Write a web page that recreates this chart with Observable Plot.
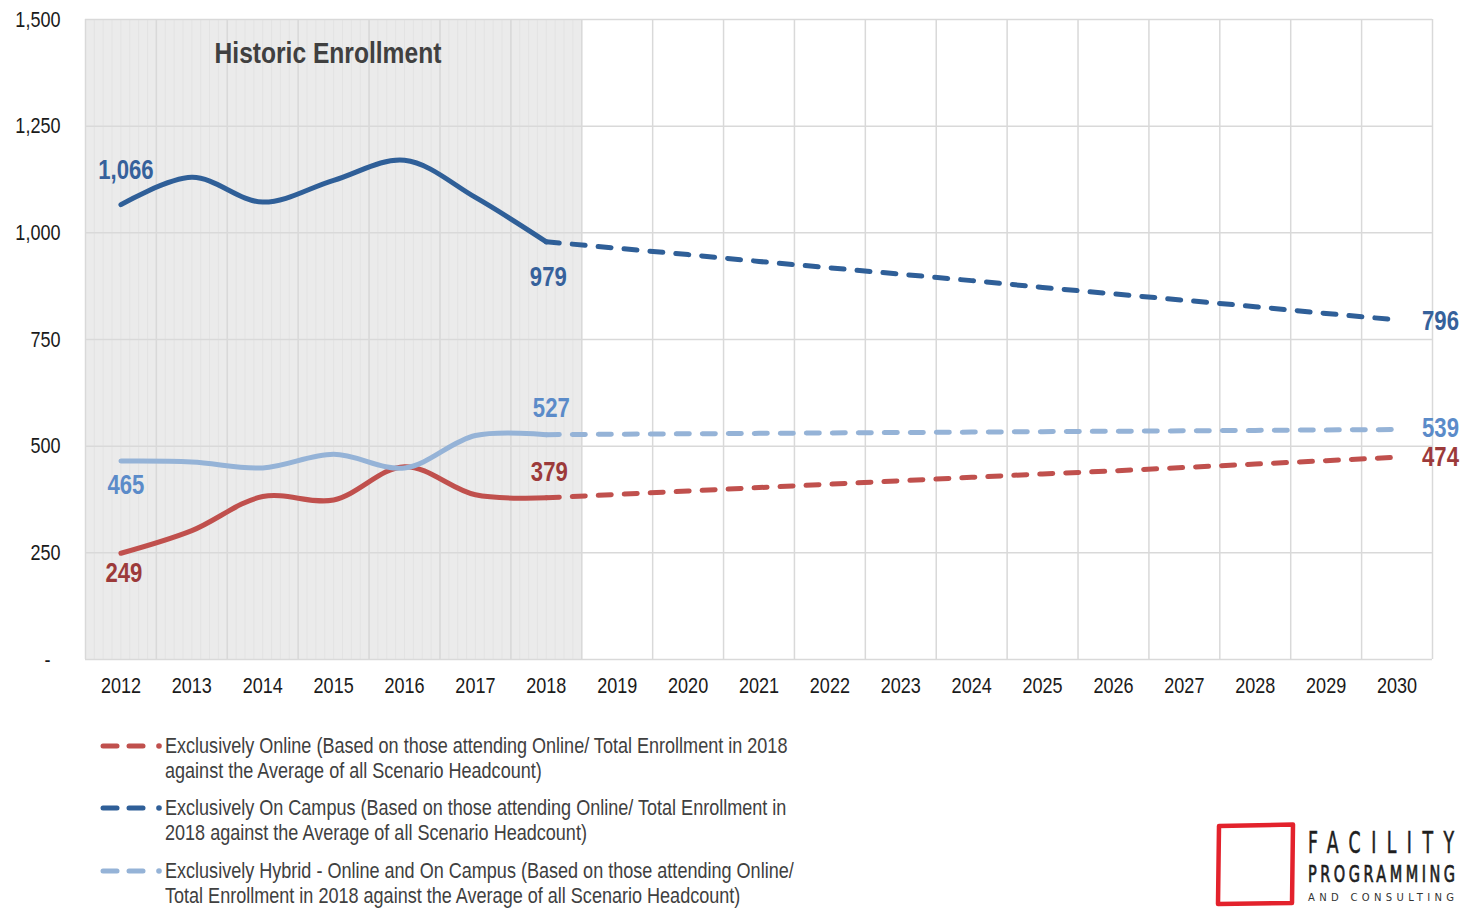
<!DOCTYPE html>
<html><head><meta charset="utf-8">
<script src="https://cdn.jsdelivr.net/npm/d3@7"></script>
<script src="https://cdn.jsdelivr.net/npm/@observablehq/plot@0.6"></script>
<style>
body{margin:0;background:#fff;font-family:"Liberation Sans",Arial,sans-serif;}
#wrap{position:relative;width:1462px;height:909px;overflow:hidden;}
#chart{position:absolute;left:0;top:0;}
.leg{position:absolute;left:100px;display:flex;align-items:flex-start;color:#404040;font-size:22px;line-height:25px;white-space:nowrap;}
.leg svg{flex:none;}
.leg span{display:inline-block;margin-left:0px;transform:scaleX(0.82);transform-origin:0 0;}
#logo{position:absolute;left:1210px;top:815px;}
</style></head><body>
<div id="wrap">
<div id="chart"></div>
<div class="leg" id="leg1" style="top:733px"></div>
<div class="leg" id="leg2" style="top:795px"></div>
<div class="leg" id="leg3" style="top:858px"></div>
<div id="logo"></div>
</div>
<script>
// ---- data ----
const years = [2012,2013,2014,2015,2016,2017,2018,2019,2020,2021,2022,2023,2024,2025,2026,2027,2028,2029,2030];
const histYears = [2012,2013,2014,2015,2016,2017,2018];
const onCampusHist = [1066,1130,1072,1123,1170,1083,979];
const onlineHist   = [249,302,382,374,452,386,379];
const hybridHist   = [465,463,449,481,449,525,527];
const projYears = [2018,2019,2020,2021,2022,2023,2024,2025,2026,2027,2028,2029,2030];
const onCampusProj = [979,964,949,933,918,903,888,872,857,842,827,811,796];
const onlineProj   = [379,387,395,403,411,419,427,435,442,450,458,466,474];
const hybridProj   = [527,528,529,530,531,532,533,534,535,536,537,538,539];
const yTicks = [0,250,500,750,1000,1250,1500];
const seriesNames = [
  "Exclusively Online (Based on those attending Online/ Total Enrollment in 2018<br>against the Average of all Scenario Headcount)",
  "Exclusively On Campus (Based on those attending Online/ Total Enrollment in<br>2018 against the Average of all Scenario Headcount)",
  "Exclusively Hybrid - Online and On Campus (Based on those attending Online/<br>Total Enrollment in 2018 against the Average of all Scenario Headcount)"
];
const historicTitle = "Historic Enrollment";
const historicRange = [2012, 2018];
const logoLines = ["FACILITY", "PROGRAMMING", "AND CONSULTING"];

// ---- styles ----
const C = {
  online: "#c0504d", onlineText: "#9c3a3a",
  campus: "#2f5f98", campusText: "#36619b",
  hybrid: "#95b3d7", hybridText: "#5b8bc9"
};
const font = '"Liberation Sans",Arial,sans-serif';
const NARROW = 0.82;

const hist = histYears.map((y,i)=>({year:y, online:onlineHist[i], campus:onCampusHist[i], hybrid:hybridHist[i]}));
const proj = projYears.map((y,i)=>({year:y, online:onlineProj[i], campus:onCampusProj[i], hybrid:hybridProj[i]}));
const first = hist[0], lastH = hist[hist.length-1], lastP = proj[proj.length-1];

const boundaries = d3.range(years.length+1).map(i => years[0] - 0.5 + i);
const texture = d3.range(0, (historicRange[1]-historicRange[0]+1)*8+1).map(i => historicRange[0]-0.5 + i/8);

function lbl(d, key, color, dx, dy, anchor) {
  return Plot.text([d], {x:"year", y:key, text: dd => d3.format(",")(dd[key]), dx, dy,
    fill: color, fontWeight:"bold", fontSize: 27, textAnchor: anchor || "middle"});
}

const chart = Plot.plot({
  width: 1462, height: 710,
  marginLeft: 85, marginRight: 30, marginTop: 19, marginBottom: 51,
  style: {fontFamily: font, fontSize: "22px", color: "#1a1a1a", background: "transparent", overflow: "visible"},
  x: {domain: [years[0]-0.5, years[years.length-1]+0.5], ticks: years, tickFormat: d => String(d), tickSize: 0, tickPadding: 18, label: null},
  y: {domain: [0, 1500], ticks: yTicks, tickFormat: d => d === 0 ? "-\u00a0\u00a0" : d3.format(",")(d), tickSize: 0, tickPadding: 25, label: null},
  marks: [
    Plot.rect([historicRange], {x1: d => d[0]-0.5, x2: d => d[1]+0.5, y1: 0, y2: 1500, fill: "#ebebeb"}),
    Plot.ruleX(texture, {y1: 0, y2: 1500, stroke: "#e3e3e3", strokeWidth: 1}),
    Plot.ruleY(yTicks, {stroke: "#d9d9d9", strokeWidth: 1.5}),
    Plot.ruleX(boundaries, {y1: 0, y2: 1500, stroke: "#d9d9d9", strokeWidth: 1.5}),
    Plot.text([historicTitle], {x: d3.mean(historicRange)-0.08, y: 1500, dy: 34, text: d => d, fontWeight: "bold", fontSize: 30, fill: "#404040"}),
    // projections
    Plot.line(proj, {x: "year", y: "online", stroke: C.online, strokeWidth: 5, strokeDasharray: "13,13", strokeLinecap: "round"}),
    Plot.line(proj, {x: "year", y: "campus", stroke: C.campus, strokeWidth: 5, strokeDasharray: "13,13", strokeLinecap: "round"}),
    Plot.line(proj, {x: "year", y: "hybrid", stroke: C.hybrid, strokeWidth: 5, strokeDasharray: "13,13", strokeLinecap: "round"}),
    // historic
    Plot.line(hist, {x: "year", y: "online", stroke: C.online, strokeWidth: 5, curve: "catmull-rom", strokeLinecap: "round"}),
    Plot.line(hist, {x: "year", y: "campus", stroke: C.campus, strokeWidth: 5, curve: "catmull-rom", strokeLinecap: "round"}),
    Plot.line(hist, {x: "year", y: "hybrid", stroke: C.hybrid, strokeWidth: 5, curve: "catmull-rom", strokeLinecap: "round"}),
    // labels
    lbl(first, "campus", C.campusText, 5, -34),
    lbl(lastH, "campus", C.campusText, 2, 36),
    lbl(lastP, "campus", C.campusText, 25, 1, "start"),
    lbl(first, "hybrid", C.hybridText, 5, 24),
    lbl(lastH, "hybrid", C.hybridText, 5, -26),
    lbl(lastP, "hybrid", C.hybridText, 25, -1, "start"),
    lbl(first, "online", C.onlineText, 3, 20),
    lbl(lastH, "online", C.onlineText, 3, -25),
    lbl(lastP, "online", C.onlineText, 25, 0, "start")
  ]
});
// narrow (Arial Narrow–like) rendering: scale each text horizontally about its anchor
chart.querySelectorAll("text").forEach(t => {
  const x = +(t.getAttribute("x") || 0);
  const tr = t.getAttribute("transform") || "";
  t.setAttribute("transform", `${tr} translate(${x},0) scale(${NARROW},1) translate(${-x},0)`);
});
document.getElementById("chart").appendChild(chart);

// legend
const legColors = [C.online, C.campus, C.hybrid];
["leg1","leg2","leg3"].forEach((id,i) => {
  const el = document.getElementById(id);
  const c = legColors[i];
  el.innerHTML = `<svg width="65" height="25"><line x1="3" x2="17" y1="13" y2="13" stroke="${c}" stroke-width="5" stroke-linecap="round"/><line x1="29" x2="43" y1="13" y2="13" stroke="${c}" stroke-width="5" stroke-linecap="round"/><circle cx="59" cy="13" r="2.8" fill="${c}"/></svg><span>${seriesNames[i]}</span>`;
});

// logo
document.getElementById("logo").innerHTML = `
<svg width="252" height="94">
  <path d="M9,11 L83,9.5 L82,88 L8,89 Z" fill="none" stroke="#e3222c" stroke-width="4.5" stroke-linejoin="round"/>
  <text x="98" y="38" textLength="${146/0.62}" lengthAdjust="spacing" font-family="DejaVu Sans Condensed, sans-serif" font-size="31" fill="#1e1e1e" stroke="#1e1e1e" stroke-width="0.6" transform="translate(98,0) scale(0.62,1) translate(-98,0)">${logoLines[0]}</text>
  <text x="98" y="67" textLength="${147/0.7}" lengthAdjust="spacing" font-family="DejaVu Sans Condensed, sans-serif" font-size="23" fill="#1e1e1e" stroke="#1e1e1e" stroke-width="0.7" transform="translate(98,0) scale(0.7,1) translate(-98,0)">${logoLines[1]}</text>
  <text x="98" y="86" textLength="146" lengthAdjust="spacing" font-family="DejaVu Sans, sans-serif" font-size="10" fill="#333">${logoLines[2]}</text>
</svg>`;
</script>
</body></html>
